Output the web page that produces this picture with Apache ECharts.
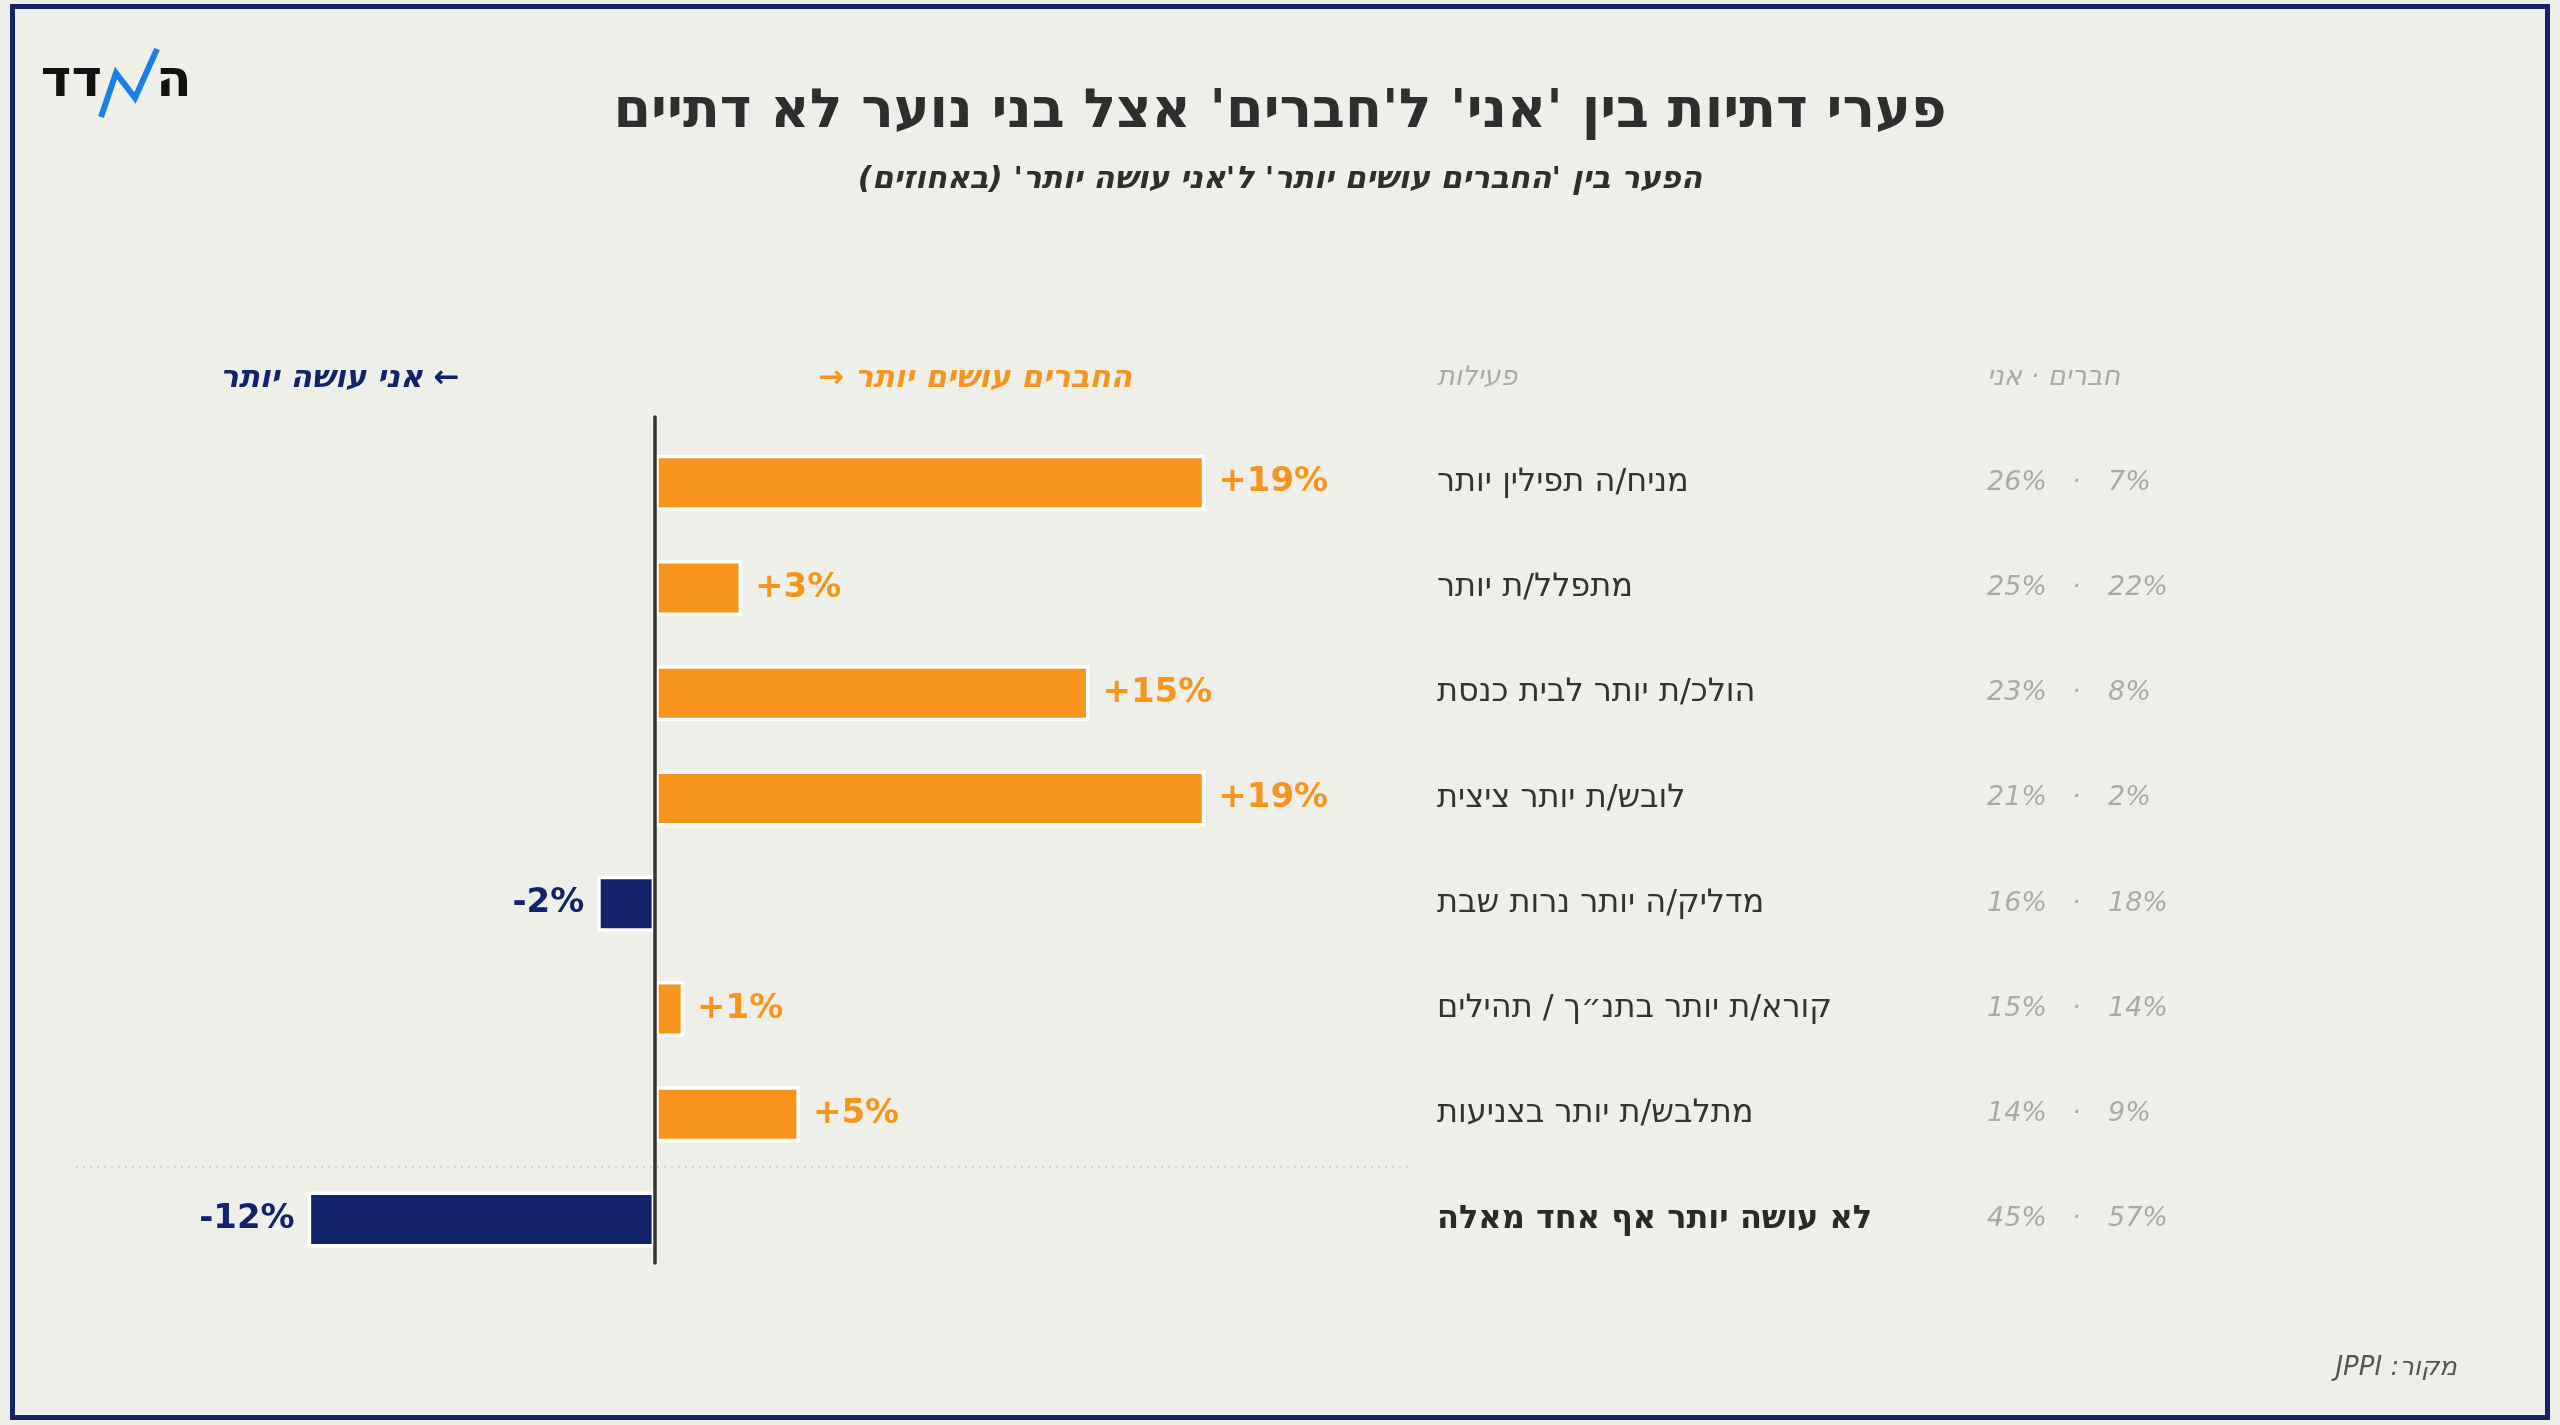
<!DOCTYPE html>
<html>
<head>
<meta charset="utf-8">
<script src="https://cdn.jsdelivr.net/npm/echarts/dist/echarts.min.js"></script>
<style>
  html, body { margin: 0; padding: 0; background: #eeefe9; }
  #main { width: 2560px; height: 1425px; }
</style>
</head>
<body>
<div id="main"></div>
<script>
// activities, top to bottom
const categories = [
  'מניח/ה תפילין יותר',
  'מתפלל/ת יותר',
  'הולכ/ת יותר לבית כנסת',
  'לובש/ת יותר ציצית',
  'מדליק/ה יותר נרות שבת',
  'קורא/ת יותר בתנ״ך / תהילים',
  'מתלבש/ת יותר בצניעות',
  'לא עושה יותר אף אחד מאלה'
];
// gap 'friends do more' minus 'I do more' (points)
const gapValues = [19, 3, 15, 19, -2, 1, 5, -12];
// the two small grey columns on the right
const friendsPct = [26, 25, 23, 21, 16, 15, 14, 45];
const mePct = [7, 22, 8, 2, 18, 14, 9, 57];

const ORANGE = '#f7941e';
const NAVY = '#13236b';
const GREY = '#aaa9a3';
const FONT = 'DejaVu Sans';

// wrap hebrew text in an RTL embedding so punctuation lands where it should
function he(s) { return '\u202B' + s + '\u202C'; }

// only the boundary above the last row gets a dotted line
let sepColors = [];
for (let i = 0; i <= categories.length; i++) {
  sepColors.push(i === categories.length - 1 ? '#cdcdc7' : 'rgba(0,0,0,0)');
}

let dom = document.getElementById('main');
let myChart = echarts.init(dom);

let option = {
  backgroundColor: '#eeefe9',
  textStyle: { fontFamily: FONT },
  animation: false,
  title: [
    {
      text: he("פערי דתיות בין 'אני' ל'חברים' אצל בני נוער לא דתיים"),
      left: 'center', top: 86, padding: 0,
      textStyle: { fontSize: 54, fontWeight: 'bold', color: '#2e2e2e', fontFamily: FONT }
    },
    {
      text: he("הפער בין 'החברים עושים יותר' ל'אני עושה יותר' (באחוזים)"),
      left: 'center', top: 164, padding: 0,
      textStyle: { fontSize: 31, fontWeight: 'bold', fontStyle: 'italic', color: '#2e2e2e', fontFamily: FONT }
    }
  ],
  grid: [
    { left: 76, right: 1152, top: 430, bottom: 153 },
    { left: 76, right: 1152, top: 417, bottom: 162 }
  ],
  xAxis: [
    { type: 'value', gridIndex: 0, min: -20, max: 26, show: false },
    { type: 'value', gridIndex: 1, min: -20, max: 26, show: false }
  ],
  yAxis: [
    {
      type: 'category', gridIndex: 0, data: categories, inverse: true,
      position: 'right',
      axisLine: { show: false, onZero: false },
      axisTick: { show: false },
      splitLine: {
        show: true,
        interval: 0,
        lineStyle: { color: sepColors, width: 1.5, type: [2, 5] }
      },
      axisLabel: {
        interval: 0,
        margin: 29,
        align: 'left',
        formatter: function (value, i) {
          let nameStyle = i === categories.length - 1 ? 'nb' : 'n';
          return '{' + nameStyle + '|' + value + '}{a|' + friendsPct[i] + '%}{d|·}{b|' + mePct[i] + '%}';
        },
        rich: {
          n: { width: 550, fontSize: 32, color: '#333333', fontFamily: FONT },
          nb: { width: 550, fontSize: 32, fontWeight: 'bold', color: '#2a2a2a', fontFamily: FONT },
          a: { width: 85, fontSize: 27, fontStyle: 'italic', color: GREY, fontFamily: FONT },
          d: { width: 36, fontSize: 27, fontStyle: 'italic', color: GREY, fontFamily: FONT },
          b: { fontSize: 27, fontStyle: 'italic', color: GREY, fontFamily: FONT }
        }
      }
    },
    {
      // zero line
      type: 'category', gridIndex: 1, data: categories, inverse: true,
      z: 10,
      axisLine: { show: true, onZero: true, lineStyle: { color: '#333333', width: 3.5 } },
      axisTick: { show: false },
      axisLabel: { show: false },
      splitLine: { show: false }
    }
  ],
  series: [
    {
      type: 'bar',
      xAxisIndex: 0,
      yAxisIndex: 0,
      barWidth: 56,
      data: gapValues.map(function (v) {
        return {
          value: v,
          itemStyle: { color: v >= 0 ? ORANGE : NAVY },
          label: { position: v >= 0 ? 'right' : 'left', color: v >= 0 ? ORANGE : NAVY }
        };
      }),
      itemStyle: { borderColor: '#ffffff', borderWidth: 3.5 },
      label: {
        show: true,
        distance: 13,
        fontSize: 34,
        fontWeight: 'bold',
        fontFamily: FONT,
        formatter: function (p) { return (p.value > 0 ? '+' : '') + p.value + '%'; }
      }
    }
  ],
  graphic: [
    {
      type: 'rect', silent: true,
      shape: { x: 12.5, y: 6.5, width: 2535, height: 1411 },
      style: { fill: null, stroke: '#15246a', lineWidth: 5 }
    },
    // logo
    {
      type: 'text', silent: true,
      style: { x: 102, y: 82, text: 'דד', font: 'bold 52px "DejaVu Sans"', fill: '#111111', textAlign: 'right', textVerticalAlign: 'middle' }
    },
    {
      type: 'text', silent: true,
      style: { x: 156, y: 82, text: 'ה', font: 'bold 52px "DejaVu Sans"', fill: '#111111', textAlign: 'left', textVerticalAlign: 'middle' }
    },
    {
      type: 'polyline', silent: true,
      shape: { points: [[101, 117], [116, 73], [135, 98], [157, 49]] },
      style: { stroke: '#1b7fe8', lineWidth: 6, fill: null, lineJoin: 'miter' }
    },
    // column headers
    {
      type: 'text', silent: true,
      style: { x: 220, y: 379, text: he('← אני עושה יותר'), font: 'italic bold 31px "DejaVu Sans"', fill: NAVY, textAlign: 'left', textVerticalAlign: 'middle' }
    },
    {
      type: 'text', silent: true,
      style: { x: 818, y: 379, text: he('החברים עושים יותר →'), font: 'italic bold 31px "DejaVu Sans"', fill: ORANGE, textAlign: 'left', textVerticalAlign: 'middle' }
    },
    {
      type: 'text', silent: true,
      style: { x: 1437, y: 378, text: he('פעילות'), font: 'italic 27px "DejaVu Sans"', fill: GREY, textAlign: 'left', textVerticalAlign: 'middle' }
    },
    {
      type: 'text', silent: true,
      style: { x: 1987, y: 378, text: he('חברים · אני'), font: 'italic 27px "DejaVu Sans"', fill: GREY, textAlign: 'left', textVerticalAlign: 'middle' }
    },
    // source
    {
      type: 'text', silent: true,
      style: { x: 2457, y: 1368, text: he('מקור: JPPI'), font: 'italic 26px "DejaVu Sans"', fill: '#555555', textAlign: 'right', textVerticalAlign: 'middle' }
    }
  ]
};

myChart.setOption(option, true);
</script>
</body>
</html>
